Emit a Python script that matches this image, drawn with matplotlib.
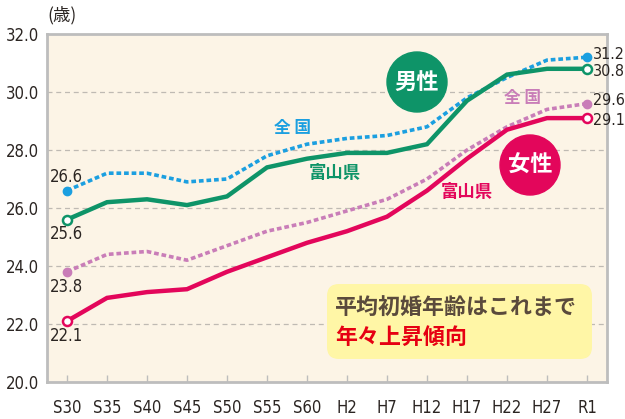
import matplotlib
matplotlib.use('Agg')
import matplotlib.pyplot as plt
from matplotlib.patches import FancyBboxPatch, Circle

plt.rcParams['font.family'] = ['DejaVu Sans', 'Noto Sans CJK JP']
plt.rcParams['font.stretch'] = 'condensed'

# ── データ ───────────────────────────────────────────
years = ['S30', 'S35', 'S40', 'S45', 'S50', 'S55', 'S60',
         'H2', 'H7', 'H12', 'H17', 'H22', 'H27', 'R1']
male_national = [26.6, 27.2, 27.2, 26.9, 27.0, 27.8, 28.2,
                 28.4, 28.5, 28.8, 29.8, 30.5, 31.1, 31.2]
male_toyama = [25.6, 26.2, 26.3, 26.1, 26.4, 27.4, 27.7,
               27.9, 27.9, 28.2, 29.7, 30.6, 30.8, 30.8]
female_national = [23.8, 24.4, 24.5, 24.2, 24.7, 25.2, 25.5,
                   25.9, 26.3, 27.0, 28.0, 28.8, 29.4, 29.6]
female_toyama = [22.1, 22.9, 23.1, 23.2, 23.8, 24.3, 24.8,
                 25.2, 25.7, 26.6, 27.7, 28.7, 29.1, 29.1]
yticks = [20.0, 22.0, 24.0, 26.0, 28.0, 30.0, 32.0]

BLUE = '#1b9fe0'
GREEN = '#0e9468'
PINK = '#c97db8'
RED = '#e3065b'
BG = '#fcf4e6'
FRAME = '#bdbdbd'
DARK = '#2b2522'

fig = plt.figure(figsize=(6.25, 4.19), dpi=100)
ax = fig.add_axes([47/625, 1-382/419, 560/625, 348/419])
ax.set_facecolor(BG)

x = list(range(len(years)))

# グリッド
for v in yticks[1:-1]:
    ax.axhline(v, color='#bfbab3', lw=0.9, ls=(0, (4, 3)), zorder=1)

ax.plot(x, male_national, color=BLUE, lw=2.6, ls=(0, (1.3, 0.8)), zorder=3)
ax.plot(x, female_national, color=PINK, lw=2.6, ls=(0, (1.3, 0.8)), zorder=3)
ax.plot(x, male_toyama, color=GREEN, lw=3.2, zorder=4, solid_joinstyle='miter')
ax.plot(x, female_toyama, color=RED, lw=3.2, zorder=4, solid_joinstyle='miter')

# 端点マーカー
ends = [0, len(years) - 1]
ax.plot([x[i] for i in ends], [male_national[i] for i in ends], 'o',
        color=BLUE, ms=6, zorder=5)
ax.plot([x[i] for i in ends], [female_national[i] for i in ends], 'o',
        color=PINK, ms=6, zorder=5)
ax.plot([x[i] for i in ends], [male_toyama[i] for i in ends], 'o',
        mfc='white', mec=GREEN, mew=1.8, ms=6.5, zorder=5)
ax.plot([x[i] for i in ends], [female_toyama[i] for i in ends], 'o',
        mfc='white', mec=RED, mew=1.8, ms=6.5, zorder=5)

# 値ラベル
lab_fs = 12
ax.text(x[0] - 0.42, male_national[0] + 0.15, f'{male_national[0]:.1f}',
        fontsize=lab_fs, color=DARK, va='bottom', ha='left')
for series in (male_toyama, female_national, female_toyama):
    ax.text(x[0] - 0.42, series[0] - 0.2, f'{series[0]:.1f}',
            fontsize=lab_fs, color=DARK, va='top', ha='left')
# 右端は近接するので少し上下に離す
nudges = [0.1, -0.1, 0.1, -0.1]
for series, dy in zip((male_national, male_toyama, female_national,
                       female_toyama), nudges):
    ax.text(x[-1] + 0.15, series[-1] + dy, f'{series[-1]:.1f}',
            fontsize=11.5, color=DARK, va='center', ha='left',
            clip_on=False)

# 系列名
jp = ['Noto Sans CJK JP']
ax.text(5.65, 28.75, '全 国', color=BLUE, fontsize=12, fontweight='bold',
        family=jp, ha='center', va='center')
ax.text(6.7, 27.2, '富山県', color=GREEN, fontsize=12.5, fontweight='bold',
        family=jp, ha='center', va='center')
ax.text(11.4, 29.8, '全 国', color=PINK, fontsize=12, fontweight='bold',
        family=jp, ha='center', va='center')
ax.text(10.0, 26.55, '富山県', color=RED, fontsize=12.5, fontweight='bold',
        family=jp, ha='center', va='center')

# 男性・女性の丸
for cx, cy, col, txt in [(417, 82, GREEN, '男性'), (530, 165, RED, '女性')]:
    c = Circle((cx, 419 - cy), 30, transform=None, color=col, zorder=6)
    fig.patches.append(c)
    fig.text(cx / 625, 1 - cy / 419, txt, color='white', fontsize=16,
             fontweight='bold', family=jp, ha='center', va='center', zorder=7)

# 吹き出し
box = FancyBboxPatch((327, 419 - 359), 265, 75, transform=None,
                     boxstyle='round,pad=0,rounding_size=12',
                     fc='#fff6a6', ec='none', zorder=6)
fig.patches.append(box)
fig.text(335 / 625, 1 - 307 / 419, '平均初婚年齢はこれまで', color='#5a4a3c',
         fontsize=15.8, fontweight='bold', family=jp, va='center', ha='left',
         zorder=7)
fig.text(335 / 625, 1 - 337 / 419, '年々上昇傾向', color='#e60012',
         fontsize=15.8, fontweight='bold', family=jp, va='center', ha='left',
         zorder=7)

# 軸
ax.set_xlim(-0.5, len(years) - 0.5)
ax.set_ylim(20, 32)
ax.set_yticks(yticks)
ax.set_yticklabels([f'{v:.1f}' for v in yticks], fontsize=12, color=DARK)
ax.set_xticks(x)
ax.set_xticklabels(years, fontsize=12, color=DARK)
ax.tick_params(axis='y', length=0, pad=6)
ax.tick_params(axis='x', direction='in', length=5, color=FRAME, width=1,
               pad=12)
for s in ax.spines.values():
    s.set_color(FRAME)
    s.set_linewidth(2)

fig.text(62 / 625, 1 - 15 / 419, '(歳)', family=jp, fontsize=12.5,
         color=DARK, ha='center', va='center')

fig.savefig('out.png', dpi=100)
